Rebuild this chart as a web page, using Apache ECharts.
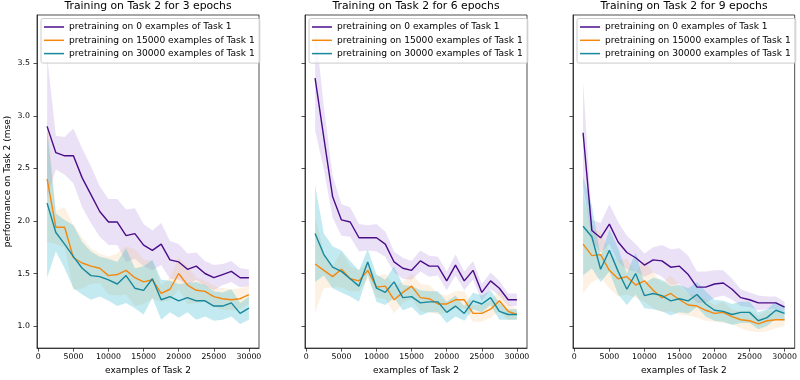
<!DOCTYPE html>
<html>
<head>
<meta charset="utf-8">
<script src="https://cdn.jsdelivr.net/npm/echarts@6/dist/echarts.min.js"></script>
<style>html,body{margin:0;padding:0;background:#fff}#c{width:800px;height:380px}</style>
</head>
<body>
<div id="c"></div>
<script>
// ---------- data ----------
const examples = [1250, 2500, 3750, 5000, 6250, 7500, 8750, 10000, 11250, 12500, 13750, 15000,
                  16250, 17500, 18750, 20000, 21250, 22500, 23750, 25000, 26250, 27500, 28750, 30000];
const xTicks = [0, 5000, 10000, 15000, 20000, 25000, 30000];
const yTicks = [1.0, 1.5, 2.0, 2.5, 3.0, 3.5];
const seriesNames = ['pretraining on 0 examples of Task 1',
                     'pretraining on 15000 examples of Task 1',
                     'pretraining on 30000 examples of Task 1'];
const panelTitles = ['Training on Task 2 for 3 epochs', 'Training on Task 2 for 6 epochs', 'Training on Task 2 for 9 epochs'];
const xLabel = 'examples of Task 2';
const yLabel = 'performance on Task 2 (mse)';

// 3 epochs
const e3_pre0_mean     = [2.90, 2.65, 2.62, 2.62, 2.41, 2.25, 2.09, 1.99, 1.99, 1.86, 1.88, 1.77, 1.72, 1.78, 1.63, 1.61, 1.54, 1.57, 1.50, 1.46, 1.49, 1.52, 1.46, 1.46];
const e3_pre0_std      = [0.67, 0.16, 0.18, 0.26, 0.28, 0.27, 0.24, 0.22, 0.22, 0.25, 0.24, 0.20, 0.19, 0.20, 0.18, 0.17, 0.15, 0.13, 0.12, 0.12, 0.10, 0.10, 0.09, 0.08];
const e3_pre15000_mean = [2.40, 1.94, 1.94, 1.65, 1.60, 1.57, 1.55, 1.48, 1.49, 1.53, 1.46, 1.42, 1.44, 1.31, 1.35, 1.50, 1.39, 1.34, 1.33, 1.28, 1.26, 1.25, 1.26, 1.30];
const e3_pre15000_std  = [0.60, 0.16, 0.19, 0.31, 0.24, 0.17, 0.14, 0.18, 0.20, 0.23, 0.27, 0.21, 0.18, 0.08, 0.11, 0.15, 0.18, 0.12, 0.10, 0.10, 0.10, 0.10, 0.10, 0.09];
const e3_pre30000_mean = [2.17, 1.89, 1.78, 1.66, 1.55, 1.48, 1.47, 1.44, 1.40, 1.48, 1.36, 1.34, 1.45, 1.25, 1.28, 1.24, 1.27, 1.24, 1.24, 1.19, 1.19, 1.22, 1.12, 1.17];
const e3_pre30000_std  = [0.71, 0.18, 0.23, 0.30, 0.25, 0.23, 0.19, 0.20, 0.21, 0.26, 0.19, 0.23, 0.18, 0.19, 0.15, 0.16, 0.14, 0.18, 0.15, 0.14, 0.13, 0.13, 0.10, 0.11];

// 6 epochs
const e6_pre0_mean     = [3.36, 2.79, 2.23, 2.01, 1.99, 1.84, 1.84, 1.84, 1.78, 1.61, 1.55, 1.53, 1.62, 1.57, 1.57, 1.43, 1.58, 1.43, 1.53, 1.32, 1.43, 1.36, 1.25, 1.25];
const e6_pre0_std      = [0.50, 0.30, 0.20, 0.15, 0.14, 0.13, 0.12, 0.13, 0.12, 0.10, 0.10, 0.09, 0.10, 0.10, 0.09, 0.09, 0.10, 0.09, 0.09, 0.08, 0.08, 0.07, 0.06, 0.06];
const e6_pre15000_mean = [1.59, 1.53, 1.47, 1.54, 1.45, 1.43, 1.53, 1.37, 1.38, 1.25, 1.32, 1.38, 1.27, 1.26, 1.21, 1.21, 1.25, 1.25, 1.12, 1.12, 1.16, 1.24, 1.14, 1.11];
const e6_pre15000_std  = [0.46, 0.17, 0.10, 0.17, 0.12, 0.10, 0.08, 0.10, 0.12, 0.13, 0.10, 0.12, 0.13, 0.13, 0.10, 0.08, 0.08, 0.08, 0.08, 0.08, 0.08, 0.10, 0.08, 0.05];
const e6_pre30000_mean = [1.88, 1.68, 1.56, 1.52, 1.45, 1.38, 1.61, 1.36, 1.32, 1.42, 1.27, 1.28, 1.22, 1.23, 1.23, 1.13, 1.19, 1.12, 1.24, 1.21, 1.27, 1.14, 1.11, 1.11];
const e6_pre30000_std  = [0.46, 0.20, 0.20, 0.20, 0.17, 0.15, 0.12, 0.13, 0.12, 0.15, 0.12, 0.10, 0.12, 0.10, 0.10, 0.10, 0.10, 0.07, 0.08, 0.08, 0.07, 0.08, 0.05, 0.05];

// 9 epochs
const e9_pre0_mean     = [2.84, 1.91, 1.84, 1.97, 1.80, 1.70, 1.65, 1.58, 1.63, 1.62, 1.56, 1.57, 1.49, 1.37, 1.37, 1.40, 1.41, 1.35, 1.27, 1.25, 1.22, 1.22, 1.22, 1.18];
const e9_pre0_std      = [0.49, 0.10, 0.14, 0.19, 0.19, 0.16, 0.13, 0.11, 0.12, 0.15, 0.17, 0.17, 0.18, 0.15, 0.15, 0.13, 0.12, 0.10, 0.08, 0.07, 0.07, 0.06, 0.06, 0.05];
const e9_pre15000_mean = [1.78, 1.67, 1.68, 1.53, 1.45, 1.47, 1.39, 1.43, 1.34, 1.27, 1.31, 1.25, 1.20, 1.19, 1.15, 1.12, 1.13, 1.09, 1.06, 1.05, 1.02, 1.05, 1.06, 1.06];
const e9_pre15000_std  = [0.47, 0.25, 0.22, 0.17, 0.17, 0.17, 0.12, 0.20, 0.17, 0.14, 0.17, 0.14, 0.10, 0.11, 0.10, 0.08, 0.10, 0.07, 0.08, 0.10, 0.08, 0.10, 0.08, 0.06];
const e9_pre30000_mean = [1.95, 1.85, 1.54, 1.72, 1.52, 1.35, 1.50, 1.29, 1.31, 1.29, 1.24, 1.26, 1.24, 1.30, 1.21, 1.15, 1.14, 1.11, 1.13, 1.13, 1.05, 1.08, 1.15, 1.12];
const e9_pre30000_std  = [0.47, 0.30, 0.12, 0.20, 0.22, 0.15, 0.20, 0.12, 0.15, 0.15, 0.14, 0.13, 0.12, 0.12, 0.12, 0.10, 0.10, 0.10, 0.10, 0.10, 0.08, 0.08, 0.08, 0.07];

// ---------- chart ----------
const FONT = 'DejaVu Sans';
const lineColors = ['#4b0c8a', '#f5870f', '#16879c'];
const bandColors = ['rgba(148,103,209,0.2)', 'rgba(240,185,110,0.2)', 'rgba(40,180,200,0.28)'];
const X_MIN = -187.5, X_MAX = 31437.5, Y_MIN = 0.79, Y_MAX = 3.96;
const gridLefts = [37, 305, 573];
const GRID_W = 222, GRID_TOP = 15, GRID_H = 337;
const AX = '#222';

const panels = [
  { means: [e3_pre0_mean, e3_pre15000_mean, e3_pre30000_mean], stds: [e3_pre0_std, e3_pre15000_std, e3_pre30000_std] },
  { means: [e6_pre0_mean, e6_pre15000_mean, e6_pre30000_mean], stds: [e6_pre0_std, e6_pre15000_std, e6_pre30000_std] },
  { means: [e9_pre0_mean, e9_pre15000_mean, e9_pre30000_mean], stds: [e9_pre0_std, e9_pre15000_std, e9_pre30000_std] }
];

const option = { animation: false, title: [], legend: [], grid: [], xAxis: [], yAxis: [], series: [] };

panels.forEach(function (p, i) {
  const gl = gridLefts[i];
  option.title.push({
    text: panelTitles[i], left: gl + GRID_W / 2, top: 1, textAlign: 'center', padding: 0,
    textStyle: { fontFamily: FONT, fontSize: 10.8, fontWeight: 'normal', color: '#000' }
  });
  option.legend.push({
    data: seriesNames, left: gl + 4, top: 18.5, orient: 'vertical', icon: 'rect',
    itemWidth: 20, itemHeight: 1.5, itemGap: 2.3, padding: [3, 5, 4, 3],
    borderColor: '#cccccc', borderWidth: 1, borderRadius: 2, backgroundColor: 'rgba(255,255,255,0.8)',
    selectedMode: false,
    textStyle: { fontFamily: FONT, fontSize: 9.1, color: '#000', lineHeight: 11 }
  });
  option.grid.push({ left: gl, top: GRID_TOP, width: GRID_W, height: GRID_H, show: true,
    borderColor: AX, borderWidth: 0.8, backgroundColor: 'transparent' });
  option.xAxis.push({
    type: 'value', gridIndex: i, min: X_MIN, max: X_MAX,
    axisLine: { show: true, onZero: false, lineStyle: { color: AX, width: 0.8 } },
    axisTick: { show: true, length: 3.5, customValues: xTicks, lineStyle: { color: AX, width: 0.8 } },
    axisLabel: { customValues: xTicks, fontFamily: FONT, fontSize: 7.8, color: '#000', margin: 5,
                 formatter: function (v) { return String(Math.round(v)); } },
    splitLine: { show: false },
    name: xLabel, nameLocation: 'middle', nameGap: 16,
    nameTextStyle: { fontFamily: FONT, fontSize: 9, color: '#000' }
  });
  option.yAxis.push({
    type: 'value', gridIndex: i, min: Y_MIN, max: Y_MAX,
    axisLine: { show: true, onZero: false, lineStyle: { color: AX, width: 0.8 } },
    axisTick: { show: true, length: 3.5, customValues: yTicks, lineStyle: { color: AX, width: 0.8 } },
    axisLabel: { show: i === 0, customValues: yTicks, fontFamily: FONT, fontSize: 7.8, color: '#000', margin: 7,
                 formatter: function (v) { return Number(v).toFixed(1); } },
    splitLine: { show: false },
    name: i === 0 ? yLabel : '', nameLocation: 'middle', nameGap: 25,
    nameTextStyle: { fontFamily: FONT, fontSize: 9, color: '#000' }
  });

  // bands (mean ± std) drawn as polygons via the axis scales
  p.means.forEach(function (mean, j) {
    const std = p.stds[j];
    const lo = mean.map(function (m, k) { return m - std[k]; });
    const hi = mean.map(function (m, k) { return m + std[k]; });
    option.series.push({
      type: 'custom', xAxisIndex: i, yAxisIndex: i, z: 1, silent: true,
      data: examples.map(function (x, k) { return [x, lo[k], hi[k]]; }),
      encode: { x: 0, y: [1, 2] },
      renderItem: function (params, api) {
        if (params.dataIndex !== 0) return null;
        const pts = [];
        for (let k = 0; k < examples.length; k++) pts.push(api.coord([examples[k], hi[k]]));
        for (let k = examples.length - 1; k >= 0; k--) pts.push(api.coord([examples[k], lo[k]]));
        return { type: 'polygon', shape: { points: pts }, style: { fill: bandColors[j] } };
      }
    });
  });
  // mean lines
  p.means.forEach(function (mean, j) {
    option.series.push({
      type: 'line', name: seriesNames[j], xAxisIndex: i, yAxisIndex: i, z: 2,
      data: examples.map(function (x, k) { return [x, mean[k]]; }),
      symbol: 'none', color: lineColors[j],
      lineStyle: { color: lineColors[j], width: 1.4 }, itemStyle: { color: lineColors[j] }
    });
  });
});

const chart = echarts.init(document.getElementById('c'));
chart.setOption(option);
</script>
</body>
</html>
